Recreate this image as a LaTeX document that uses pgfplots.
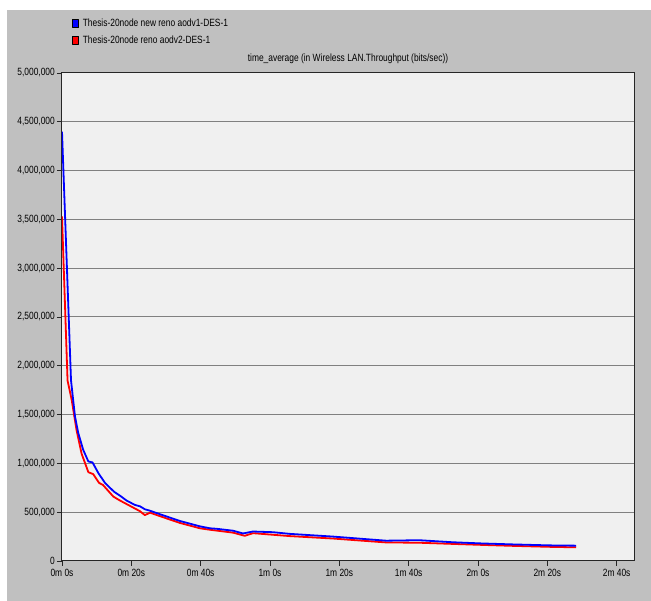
\documentclass[border=0pt]{standalone}
\usepackage{fontspec}
\setmainfont{Liberation Sans}[FakeStretch=0.8]
\usepackage{pgfplots}
\pgfplotsset{compat=1.18}

\definecolor{framebg}{RGB}{192,192,192}
\definecolor{plotbg}{RGB}{240,240,240}
\definecolor{gridgray}{RGB}{128,128,128}
\definecolor{serblue}{RGB}{0,0,255}
\definecolor{serred}{RGB}{255,0,0}
\newcommand{\lblfont}{\fontsize{10.5pt}{12pt}\selectfont}

\begin{document}
\begin{tikzpicture}[font=\lblfont]
\useasboundingbox (0pt,0pt) rectangle (651pt,601pt);
\fill[white] (0pt,0pt) rectangle (651pt,601pt);
\fill[framebg] (7pt,0pt) rectangle (651pt,591pt);
\begin{axis}[
  at={(62pt,40pt)}, anchor=south west,
  scale only axis, width=572pt, height=488pt,
  xmin=0, xmax=165, ymin=0, ymax=5000000,
  axis background/.style={fill=plotbg},
  axis line style={black!85, line width=1pt},
  xtick={0,20,...,160},
  xticklabels={0m 0s,0m 20s,0m 40s,1m 0s,1m 20s,1m 40s,2m 0s,2m 20s,2m 40s},
  ytick={0,500000,...,5000000},
  scaled y ticks=false,
  /pgf/number format/fixed,
  /pgf/number format/1000 sep={,},
  /pgf/number format/assume math mode=true,
  tick align=outside, xtick pos=bottom, ytick pos=left,
  major tick length=5pt,
  tick style={black!85, line width=0.8pt},
  tick label style={font=\lblfont},
  yticklabel style={inner sep=2pt},
  xticklabel style={inner sep=2pt, yshift=-1pt},
  ymajorgrids,
  grid style={gridgray, line width=1pt},
  title={time\_average (in Wireless LAN.Throughput (bits/sec))},
  title style={at={(axis description cs:0.5,1)}, anchor=base, yshift=5pt, inner sep=0pt, font=\lblfont},
  legend style={at={(axis description cs:0.0175,1.112)}, anchor=north west,
    draw=none, fill=none, inner sep=0pt, row sep=6.5pt, font=\lblfont,
    nodes={inner sep=0pt, text height=8pt, text depth=2pt}},
  legend cell align=left,
  legend image code/.code={\draw[#1, line width=0.6pt, draw=black, fill] (0pt,-4pt) rectangle (6pt,4pt);},
  every axis plot/.append style={line width=1.8pt, line join=round, mark=none},
]
\addlegendimage{serblue}
\addlegendentry{\hspace{4pt}Thesis-20node new reno aodv1-DES-1}
\addlegendimage{serred}
\addlegendentry{\hspace{4pt}Thesis-20node reno aodv2-DES-1}

% aodv2 run
\addplot[serred] coordinates {
(0,3530000) (1.6,1850000) (2.8,1650000) (4.2,1340000) (5.65,1100000)
(7.6,910000) (9,890000) (10.7,800000) (11.8,780000) (14.8,660000)
(16.7,620000) (19.6,565000) (22.5,510000) (23.9,470000) (25.4,495000)
(28.2,460000) (34,390000) (39.8,335000) (42.7,320000) (49.4,290000)
(52.7,258000) (55.1,285000) (65.7,255000) (78.2,230000) (93.5,190000)
(103,187000) (112.7,175000) (121,165000) (130,155000) (140.6,145000)
(148.3,140000)
};

% aodv1 run
\addplot[serblue] coordinates {
(0,4400000) (2.6,1850000) (3.75,1480000) (4.7,1310000) (6.1,1140000)
(7.6,1020000) (8.8,1010000) (10.5,900000) (12.4,800000) (15,710000)
(16.7,670000) (18.6,620000) (21,575000) (22.5,560000) (23.9,530000)
(25.4,515000) (28.2,480000) (34,410000) (39.8,355000) (42.7,335000)
(44.6,330000) (49.4,310000) (52.2,282000) (55.1,302000) (60.9,295000)
(65.7,278000) (78.2,250000) (93.5,208000) (103,213000) (112.7,192000)
(121,180000) (130,170000) (140.6,160000) (148.3,157000)
};
\end{axis}
\end{tikzpicture}
\end{document}
